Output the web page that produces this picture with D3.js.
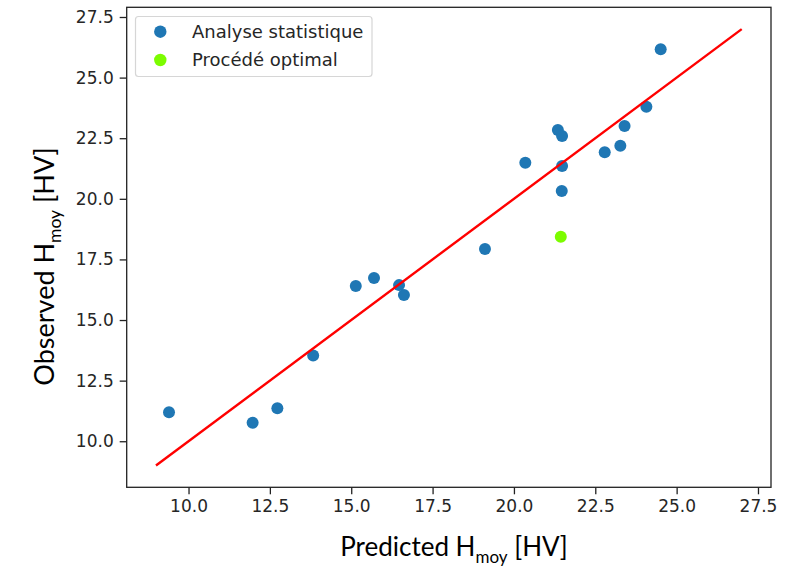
<!DOCTYPE html>
<html>
<head>
<meta charset="utf-8">
<script src="https://cdn.jsdelivr.net/npm/d3@7"></script>
<style>
  html, body { margin: 0; padding: 0; background: #fff; }
  svg { display: block; }
</style>
</head>
<body>
<svg id="chart" width="800" height="569"></svg>
<script>
// Predicted vs observed mean hardness
const predicted = [9.40, 11.97, 12.73, 13.83, 15.14, 15.70, 16.47, 16.62, 19.11, 20.35,
                   21.35, 21.48, 21.48, 21.47, 22.79, 23.27, 23.40, 24.07, 24.51];
const observed  = [11.20, 10.76, 11.36, 13.54, 16.40, 16.73, 16.44, 16.03, 17.93, 21.49,
                   22.84, 22.59, 21.35, 20.32, 21.92, 22.19, 23.00, 23.80, 26.17];
const optimalPredicted = [21.44];
const optimalObserved  = [18.44];
const fitLineX = [9, 27];
const fitLineY = [9, 27];
const tickValues = [10.0, 12.5, 15.0, 17.5, 20.0, 22.5, 25.0, 27.5];
const legendLabels = ["Analyse statistique", "Procédé optimal"];

const svg = d3.select("#chart");
const plot = { left: 126.7, right: 771, top: 7.3, bottom: 487.3 };

const x = d3.scaleLinear().domain([8.1, 27.9]).range([plot.left, plot.right]);
const y = d3.scaleLinear().domain([8.1, 27.9]).range([plot.bottom, plot.top]);

const tickFont = "'DejaVu Sans', sans-serif";
const labelFont = "Lato, 'Open Sans', sans-serif";

// Points
svg.append("g").selectAll("circle")
  .data(predicted.map((p, i) => [p, observed[i]]))
  .join("circle")
  .attr("cx", d => x(d[0]))
  .attr("cy", d => y(d[1]))
  .attr("r", 6)
  .attr("fill", "#1f77b4");

svg.append("g").selectAll("circle")
  .data(optimalPredicted.map((p, i) => [p, optimalObserved[i]]))
  .join("circle")
  .attr("cx", d => x(d[0]))
  .attr("cy", d => y(d[1]))
  .attr("r", 6)
  .attr("fill", "#7cfc00");

// Identity line
svg.append("path")
  .datum(fitLineX.map((v, i) => [v, fitLineY[i]]))
  .attr("d", d3.line().x(d => x(d[0])).y(d => y(d[1])))
  .attr("fill", "none")
  .attr("stroke", "#ff0000")
  .attr("stroke-width", 2.4);

// Axes
const xAxis = d3.axisBottom(x).tickValues(tickValues).tickFormat(d3.format(".1f"))
  .tickSize(7).tickPadding(6);
const yAxis = d3.axisLeft(y).tickValues(tickValues).tickFormat(d3.format(".1f"))
  .tickSize(7).tickPadding(6);

const gx = svg.append("g").attr("transform", `translate(0,${plot.bottom})`).call(xAxis);
const gy = svg.append("g").attr("transform", `translate(${plot.left},0)`).call(yAxis);
[gx, gy].forEach(g => {
  g.select(".domain").remove();
  g.selectAll(".tick line").attr("stroke", "#222").attr("stroke-width", 1.3);
  g.selectAll(".tick text").attr("fill", "#262626")
    .style("font-family", tickFont).style("font-size", "17px");
});

// Frame
svg.append("rect")
  .attr("x", plot.left).attr("y", plot.top)
  .attr("width", plot.right - plot.left).attr("height", plot.bottom - plot.top)
  .attr("fill", "none").attr("stroke", "#222").attr("stroke-width", 1.3);

// Legend
const legend = svg.append("g");
legend.append("rect")
  .attr("x", 135.5).attr("y", 16.5).attr("width", 236.5).attr("height", 60)
  .attr("rx", 3).attr("fill", "#fff").attr("fill-opacity", 0.8)
  .attr("stroke", "#d6d6d6").attr("stroke-width", 1.2);
const legendColors = ["#1f77b4", "#7cfc00"];
legendLabels.forEach((lab, i) => {
  const cy = 31.7 + i * 28.3;
  legend.append("circle").attr("cx", 160.3).attr("cy", cy).attr("r", 6.2)
    .attr("fill", legendColors[i]);
  legend.append("text").attr("x", 192).attr("y", cy + 6.3)
    .style("font-family", tickFont).style("font-size", "18px").attr("fill", "#262626")
    .text(lab);
});

// Axis titles with subscript
function title(sel, main, sub, rest, subSize, shift) {
  sel.append("tspan").text(main);
  sel.append("tspan").attr("dy", shift).style("font-size", subSize).text(sub);
  sel.append("tspan").attr("dy", -shift).text(rest);
}
const xt = svg.append("text")
  .attr("x", 454).attr("y", 556).attr("text-anchor", "middle")
  .style("font-family", labelFont).style("font-size", "26px").attr("fill", "#000");
title(xt, "Predicted H", "moy", " [HV]", "17px", 7);

const yt = svg.append("text")
  .attr("transform", "translate(54,266.5) rotate(-90)").attr("text-anchor", "middle")
  .style("font-family", labelFont).style("font-size", "27px").attr("fill", "#000");
title(yt, "Observed H", "moy", " [HV]", "17.5px", 7);
</script>
</body>
</html>
